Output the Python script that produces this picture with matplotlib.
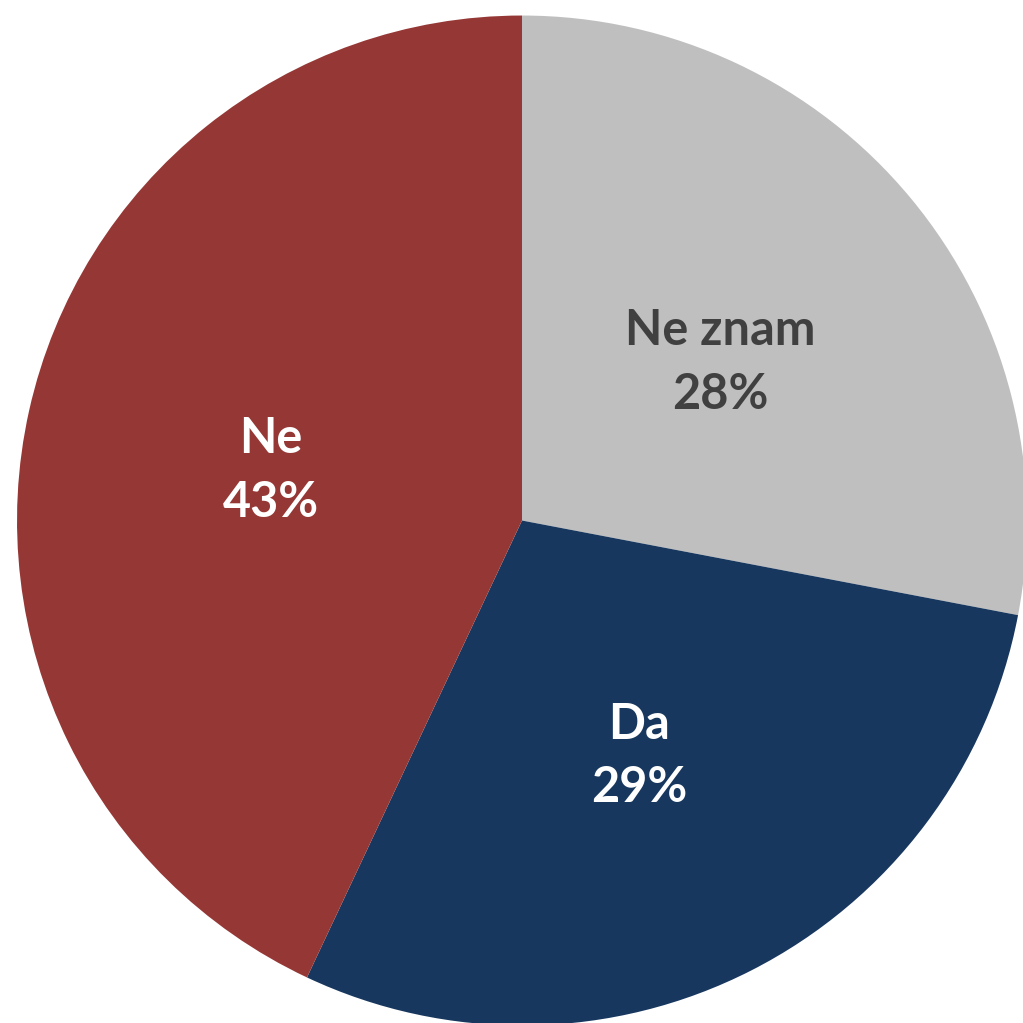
import matplotlib.pyplot as plt
import numpy as np

labels = ['Ne znam', 'Da', 'Ne']
shares = [28, 29, 43]
colors = ['#BFBFBF', '#17375E', '#953735']
text_colors = ['#404040', 'white', 'white']

fig = plt.figure(figsize=(10.23, 10.23), dpi=100)
ax = fig.add_axes([0, 0, 1, 1])

wedges, _ = ax.pie(shares, colors=colors, startangle=90, counterclock=False,
                   radius=1.0, wedgeprops={'linewidth': 0})

# label each slice with name and percentage, about halfway out
for w, name, val, tc in zip(wedges, labels, shares, text_colors):
    mid = np.deg2rad((w.theta1 + w.theta2) / 2)
    r = 0.51
    ax.text(r * np.cos(mid), r * np.sin(mid) - 0.012, f'{name}\n{val}%',
            ha='center', va='center', color=tc, fontsize=35,
            fontweight='bold', family='Lato', linespacing=1.5)

ax.set_xlim(-1.0337, 0.9921)
ax.set_ylim(-0.995, 1.0307)
ax.set_aspect('equal')
ax.axis('off')

fig.savefig('out.png', dpi=100, facecolor='white')
